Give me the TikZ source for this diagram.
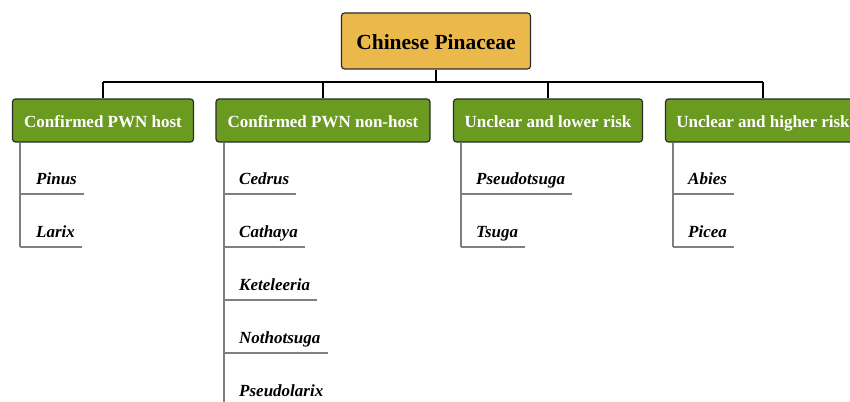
\documentclass[tikz,border=0pt]{standalone}
\usepackage{fontspec}
\setmainfont{Liberation Serif}
\definecolor{orangefill}{HTML}{EBB84B}
\definecolor{greenfill}{HTML}{6A9A1F}
\definecolor{edgecol}{HTML}{2B2B2B}
\definecolor{branchcol}{HTML}{7F7F7F}
\begin{document}
\begin{tikzpicture}[x=1pt,y=-1pt,
  rootbox/.style={draw=edgecol, line width=1.2pt, fill=orangefill, rounded corners=3pt,
    minimum width=189pt, minimum height=56pt, inner sep=0pt,
    text height=20pt, text depth=2pt,
    font=\fontsize{21.5}{24}\selectfont\bfseries},
  catbox/.style={draw=edgecol, line width=1.2pt, fill=greenfill, rounded corners=3pt,
    minimum height=43pt, inner sep=0pt, text=white,
    text height=16pt, text depth=1.6pt,
    font=\fontsize{17}{20}\selectfont\bfseries},
  item/.style={anchor=base west, inner sep=0pt,
    font=\fontsize{17}{20}\selectfont\bfseries\itshape},
  conn/.style={line width=1.5pt, draw=black},
  branch/.style={line width=1.3pt, draw=branchcol}
]
\useasboundingbox (0,0) rectangle (850,401);
\clip (0,0) rectangle (850,401);

% root and categories
\node[rootbox] (root) at (436,41) {Chinese Pinaceae};
\node[catbox, minimum width=181pt] (c1) at (103,120.5) {Confirmed PWN host};
\node[catbox, minimum width=214pt] (c2) at (323,120.5) {Confirmed PWN non-host};
\node[catbox, minimum width=189pt] (c3) at (548,120.5) {Unclear and lower risk};
\node[catbox, minimum width=195pt] (c4) at (763,120.5) {Unclear and higher risk};

% connectors
\coordinate (bus) at (436,82);
\draw[conn] (root.south) -- (bus);
\draw[conn] (c1.north |- bus) -- (c4.north |- bus);
\foreach \c in {c1,c2,c3,c4}{\draw[conn] (\c.north |- bus) -- (\c.north);}

% column 1
\node[item] (pinus) at (36,184) {Pinus};
\node[item] (larix) at (36,237) {Larix};
\draw[branch] (c1.south -| 20,0) -- (20,247);
\draw[branch] (20,194) -- (pinus.east |- 20,194) -- ++(7,0);
\draw[branch] (20,247) -- (larix.east |- 20,247) -- ++(7,0);

% column 2
\node[item] (cedrus) at (239,184) {Cedrus};
\node[item] (cathaya) at (239,237) {Cathaya};
\node[item] (kete) at (239,290) {Keteleeria};
\node[item] (notho) at (239,343) {Nothotsuga};
\node[item] (pseudol) at (239,396) {Pseudolarix};
\draw[branch] (c2.south -| 224,0) -- (224,410);
\draw[branch] (224,194) -- (cedrus.east |- 224,194) -- ++(7,0);
\draw[branch] (224,247) -- (cathaya.east |- 224,247) -- ++(7,0);
\draw[branch] (224,300) -- (kete.east |- 224,300) -- ++(7,0);
\draw[branch] (224,353) -- (notho.east |- 224,353) -- ++(7,0);
\draw[branch] (224,406) -- (pseudol.east |- 224,406) -- ++(7,0);

% column 3
\node[item] (pseudot) at (476,184) {Pseudotsuga};
\node[item] (tsuga) at (476,237) {Tsuga};
\draw[branch] (c3.south -| 461,0) -- (461,247);
\draw[branch] (461,194) -- (pseudot.east |- 461,194) -- ++(7,0);
\draw[branch] (461,247) -- (tsuga.east |- 461,247) -- ++(7,0);

% column 4
\node[item] (abies) at (688,184) {Abies};
\node[item] (picea) at (688,237) {Picea};
\draw[branch] (c4.south -| 673,0) -- (673,247);
\draw[branch] (673,194) -- (734,194);
\draw[branch] (673,247) -- (734,247);
\end{tikzpicture}
\end{document}
